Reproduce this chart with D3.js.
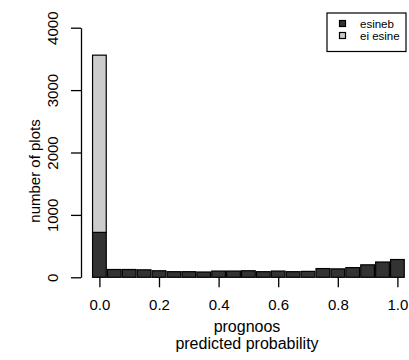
<!DOCTYPE html>
<html>
<head>
<meta charset="utf-8">
<script src="https://cdn.jsdelivr.net/npm/d3@7"></script>
<style>
  html, body { margin: 0; padding: 0; background: #fff; }
  svg { display: block; font-family: "Liberation Sans", Arial, sans-serif; }
</style>
</head>
<body>
<svg id="chart" width="409" height="360"></svg>
<script>
// bin centres (predicted probability)
const binCenters = [0, 0.05, 0.1, 0.15, 0.2, 0.25, 0.3, 0.35, 0.4, 0.45, 0.5,
    0.55, 0.6, 0.65, 0.7, 0.75, 0.8, 0.85, 0.9, 0.95, 1.0];
// counts present (esineb) and absent (ei esine)
const presentCounts = [720, 125, 125, 120, 105, 90, 90, 85, 100, 100, 105,
    90, 100, 90, 95, 140, 135, 155, 200, 245, 285];
const absentCounts = [2840, 0, 0, 0, 0, 0, 0, 0, 0, 0, 0,
    0, 0, 0, 0, 0, 0, 0, 0, 0, 0];
const xTicks = [0, 0.2, 0.4, 0.6, 0.8, 1.0];
const yTicks = [0, 1000, 2000, 3000, 4000];
const seriesNames = ['esineb', 'ei esine'];
const seriesColors = ['#333333', '#cccccc'];
const binWidth = 0.05;

const svg = d3.select('#chart');

const x = d3.scaleLinear().domain([0, 1]).range([99.4, 397.4]);
const y = d3.scaleLinear().domain([0, 4000]).range([277.3, 27.7]);

const rows = binCenters.map((c, i) => ({ c: c, present: presentCounts[i], absent: absentCounts[i] }));
const stacked = d3.stack().keys(['present', 'absent'])(rows);

const bars = svg.append('g');
stacked.forEach((layer, li) => {
    bars.selectAll(null)
        .data(layer.filter(d => d[1] - d[0] > 0))
        .enter().append('rect')
        .attr('x', d => x(d.data.c - binWidth / 2) + 0.6)
        .attr('width', d => x(binWidth) - x(0) - 1.2)
        .attr('y', d => y(d[1]))
        .attr('height', d => y(d[0]) - y(d[1]))
        .attr('fill', seriesColors[li])
        .attr('stroke', '#000')
        .attr('stroke-width', 1.2);
});

// x axis
const xAxis = svg.append('g')
    .attr('transform', `translate(0,${y(0)})`)
    .call(d3.axisBottom(x).tickValues(xTicks).tickFormat(d3.format('.1f')).tickSize(10).tickPadding(12));
xAxis.select('.domain').remove();
xAxis.selectAll('line').attr('stroke', '#000').attr('stroke-width', 1.3);
xAxis.selectAll('text').attr('font-size', 15).attr('fill', '#000').attr('font-family', null);

// y axis
const yAxis = svg.append('g')
    .attr('transform', 'translate(81,0)')
    .call(d3.axisLeft(y).tickValues(yTicks).tickFormat(d3.format('d')).tickSize(10).tickSizeOuter(0));
yAxis.select('.domain').attr('stroke', '#000').attr('stroke-width', 1.3);
yAxis.selectAll('line').attr('stroke', '#000').attr('stroke-width', 1.3);
yAxis.selectAll('.tick text')
    .attr('font-size', 15).attr('fill', '#000').attr('font-family', null)
    .attr('transform', 'rotate(-90)')
    .attr('x', 0).attr('y', -23).attr('dy', 0)
    .attr('text-anchor', 'middle');

// axis titles
svg.append('text')
    .attr('x', 247).attr('y', 332)
    .attr('text-anchor', 'middle').attr('font-size', 16).attr('fill', '#000')
    .text('prognoos');
svg.append('text')
    .attr('x', 247).attr('y', 349)
    .attr('text-anchor', 'middle').attr('font-size', 16).attr('fill', '#000')
    .text('predicted probability');
svg.append('text')
    .attr('transform', 'translate(40,171) rotate(-90)')
    .attr('text-anchor', 'middle').attr('font-size', 15).attr('fill', '#000')
    .text('number of plots');

// legend
const legend = svg.append('g').attr('transform', 'translate(327,13)');
legend.append('rect')
    .attr('width', 79).attr('height', 38.5)
    .attr('fill', '#fff').attr('stroke', '#000').attr('stroke-width', 1.2);
seriesNames.forEach((name, i) => {
    legend.append('rect')
        .attr('x', 12.5).attr('y', 7.5 + i * 12)
        .attr('width', 6).attr('height', 6)
        .attr('fill', seriesColors[i]).attr('stroke', '#000').attr('stroke-width', 1.2);
    legend.append('text')
        .attr('x', 33).attr('y', 14.5 + i * 12)
        .attr('font-size', 11.5).attr('fill', '#000')
        .text(name);
});
</script>
</body>
</html>
